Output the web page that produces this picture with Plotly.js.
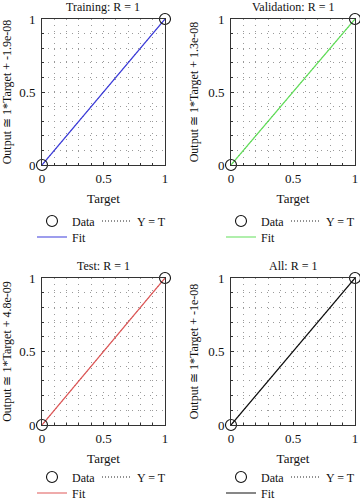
<!DOCTYPE html>
<html><head><meta charset="utf-8">
<script src="https://cdn.plot.ly/plotly-3.0.1.min.js"></script>
<style>html,body{margin:0;padding:0;background:#fff}#chart{width:360px;height:500px}</style>
</head><body><div id="chart"></div>
<script>
const panelNames = ['Training', 'Validation', 'Test', 'All'];
const rValues = [1, 1, 1, 1];
const fitSlopes = [1, 1, 1, 1];
const fitIntercepts = [-1.9e-08, 1.3e-08, 4.8e-09, -1e-08];
const fitColors = ['#3d3ddc', '#62e05a', '#e05858', '#111111'];
const targets = [0, 1];
const outputs = [[0, 1], [0, 1], [0, 1], [0, 1]];
const legendLabels = ['Data', 'Y = T', 'Fit'];

const W = 360, H = 500;
const cols = [[42, 165], [231, 355]];
const rows = [[19, 165], [278, 425]];
const legendRowOffsets = [[56, 72], [52, 68]];
const FONT = 'Liberation Serif, Times New Roman, serif';

function fmtExp(v) {
  return v.toExponential().replace(/e([+-])(\d)$/, 'e$10$2');
}

const traces = [];
const layout = {
  width: W, height: H,
  margin: {l: 0, r: 0, t: 0, b: 0, autoexpand: false},
  paper_bgcolor: '#fff', plot_bgcolor: '#fff',
  font: {family: FONT, size: 12, color: '#111'},
  showlegend: true,
  annotations: []
};

for (let i = 0; i < 4; i++) {
  const ri = Math.floor(i / 2);
  const c = cols[i % 2], r = rows[ri], lo = legendRowOffsets[ri];
  const sfx = i === 0 ? '' : String(i + 1);
  const xa = 'x' + sfx, ya = 'y' + sfx;
  const lgData = 'legend' + (i === 0 ? '' : String(3 * i + 1));
  const lgYT = 'legend' + String(3 * i + 2);
  const lgFit = 'legend' + String(3 * i + 3);
  const fitY = targets.map(t => fitSlopes[i] * t + fitIntercepts[i]);

  traces.push({
    x: targets, y: targets, xaxis: xa, yaxis: ya, type: 'scatter', mode: 'lines',
    name: legendLabels[1], legend: lgYT,
    line: {color: '#222', width: 1, dash: '1px,2px'}, hoverinfo: 'skip'
  });
  traces.push({
    x: targets, y: fitY, xaxis: xa, yaxis: ya, type: 'scatter', mode: 'lines',
    name: legendLabels[2], legend: lgFit,
    line: {color: fitColors[i], width: 1.2}
  });
  traces.push({
    x: targets, y: outputs[i], xaxis: xa, yaxis: ya, type: 'scatter', mode: 'markers',
    name: legendLabels[0], legend: lgData, cliponaxis: false,
    marker: {symbol: 'circle-open', size: 11, color: '#111', line: {width: 1.1, color: '#111'}}
  });

  const gridStyle = {showgrid: true, gridcolor: '#9a9a9a', gridwidth: 1, griddash: '1px,5px'};
  const common = Object.assign({
    range: [0, 1], tick0: 0, dtick: 0.5, showline: true, mirror: true,
    linecolor: '#333', linewidth: 1, ticks: 'inside', ticklen: 3, tickcolor: '#333',
    zeroline: false, tickfont: {size: 13, family: FONT, color: '#111'},
    minor: Object.assign({tick0: 0, dtick: 0.1, ticks: 'inside', ticklen: 2, tickcolor: '#333'}, gridStyle),
    fixedrange: true
  }, gridStyle);

  layout['xaxis' + sfx] = Object.assign({}, common, {
    domain: [c[0] / W, c[1] / W], anchor: ya, ticklabelstandoff: 1,
    title: {text: 'Target', font: {size: 13, family: FONT}, standoff: 9}
  });
  layout['yaxis' + sfx] = Object.assign({}, common, {
    domain: [1 - r[1] / H, 1 - r[0] / H], anchor: xa, ticklabelstandoff: 3,
    title: {text: 'Output \u2245 ' + fitSlopes[i] + '*Target + ' + fmtExp(fitIntercepts[i]),
            font: {size: 12, family: FONT}, standoff: 6}
  });

  layout.annotations.push({
    xref: 'paper', yref: 'paper', x: (c[0] + c[1]) / 2 / W, y: 1 - r[0] / H,
    xanchor: 'center', yanchor: 'bottom', yshift: 3, showarrow: false,
    text: panelNames[i] + ': R = ' + rValues[i], font: {size: 12, family: FONT}
  });

  const legBase = {orientation: 'h', bgcolor: 'rgba(0,0,0,0)', borderwidth: 0,
    font: {size: 12, family: FONT, color: '#111'}, xanchor: 'left', yanchor: 'middle',
    itemclick: false, itemdoubleclick: false};
  layout[lgData] = Object.assign({}, legBase, {x: (c[0] - 10) / W, y: 1 - (r[1] + lo[0]) / H});
  layout[lgYT] = Object.assign({}, legBase, {x: (c[0] + 55) / W, y: 1 - (r[1] + lo[0]) / H});
  layout[lgFit] = Object.assign({}, legBase, {x: (c[0] - 10) / W, y: 1 - (r[1] + lo[1]) / H});
}

Plotly.newPlot('chart', traces, layout, {displayModeBar: false, staticPlot: true});
</script></body></html>
